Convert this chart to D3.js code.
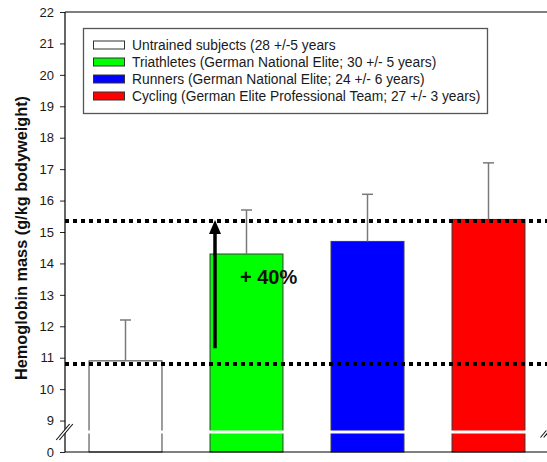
<!DOCTYPE html>
<html>
<head>
<meta charset="utf-8">
<script src="https://cdn.jsdelivr.net/npm/d3@7"></script>
<style>
  html, body { margin: 0; padding: 0; background: #fff; }
  svg { display: block; font-family: Arial, "Liberation Sans", sans-serif; }
</style>
</head>
<body>
<svg id="chart" width="547" height="462"></svg>
<script>
// Groups, mean hemoglobin mass and upper SD (g/kg bodyweight)
const categories = ["Untrained", "Triathletes", "Runners", "Cycling"];
const legendLabels = [
  "Untrained subjects (28 +/-5 years",
  "Triathletes (German National Elite; 30 +/- 5 years)",
  "Runners (German National Elite; 24 +/- 6 years)",
  "Cycling (German Elite Professional Team; 27 +/- 3 years)"
];
const means = [10.9, 14.3, 14.7, 15.4];
const sds = [1.3, 1.4, 1.5, 1.8];
const colors = ["#ffffff", "#00ff00", "#0000ff", "#ff0000"];
const refLevels = [15.35, 10.8];
const yTicks = [0, 9, 10, 11, 12, 13, 14, 15, 16, 17, 18, 19, 20, 21, 22];
const arrowFrom = 11.3, arrowTo = 15.35;
const annotation = "+ 40%";
const yTitle = "Hemoglobin mass (g/kg bodyweight)";

const svg = d3.select("#chart");
const plotL = 65, plotR = 549, plotT = 12, plotB = 452;
const W = 547;

// Broken axis: 0 sits one unit below 9
const unit = (plotB - plotT) / 14;
const y = d3.scaleLinear()
  .domain([0, 9, 22])
  .range([plotB, plotB - unit, plotT]);

const x = d3.scaleBand()
  .domain(categories)
  .range([plotL, plotR])
  .paddingInner(0.397)
  .paddingOuter(0.1985);

const breakY = 432;

// Bars
svg.append("g").selectAll("rect")
  .data(categories)
  .join("rect")
  .attr("x", d => x(d))
  .attr("y", (d, i) => y(means[i]))
  .attr("width", x.bandwidth())
  .attr("height", (d, i) => y(0) - y(means[i]))
  .attr("fill", (d, i) => colors[i])
  .attr("stroke", "#3a3a3a")
  .attr("stroke-width", 1);

// Break gap through the bars
svg.append("g").selectAll("rect")
  .data(categories)
  .join("rect")
  .attr("x", d => x(d) - 1.5)
  .attr("y", breakY - 1.5)
  .attr("width", x.bandwidth() + 3)
  .attr("height", 3)
  .attr("fill", "#fff");

// Upper error bars
const eb = svg.append("g").attr("stroke", "#7a7a7a").attr("stroke-width", 1.5);
categories.forEach((c, i) => {
  const cx = x(c) + x.bandwidth() / 2;
  eb.append("line").attr("x1", cx).attr("x2", cx)
    .attr("y1", y(means[i])).attr("y2", y(means[i] + sds[i]));
  eb.append("line").attr("x1", cx - 5.5).attr("x2", cx + 5.5)
    .attr("y1", y(means[i] + sds[i])).attr("y2", y(means[i] + sds[i]));
});

// Dotted reference levels
svg.append("g").selectAll("line")
  .data(refLevels)
  .join("line")
  .attr("x1", plotL).attr("x2", W)
  .attr("y1", d => y(d)).attr("y2", d => y(d))
  .attr("stroke", "#000")
  .attr("stroke-width", 4)
  .attr("stroke-dasharray", "4,4");

// Axes
const yAxis = d3.axisLeft(y).tickValues(yTicks).tickSize(5).tickPadding(6)
  .tickFormat(d3.format("d"));
const gy = svg.append("g").attr("transform", `translate(${plotL},0)`).call(yAxis);
gy.select(".domain").remove();
gy.selectAll("text").attr("font-size", 13).attr("fill", "#1a1a1a").attr("font-family", "Arial, 'Liberation Sans', sans-serif");
gy.selectAll("line").attr("stroke", "#222");
svg.append("line").attr("x1", plotL).attr("x2", plotL).attr("y1", plotT).attr("y2", plotB)
  .attr("stroke", "#000").attr("stroke-width", 1.2);
svg.append("line").attr("x1", plotL).attr("x2", W).attr("y1", plotB).attr("y2", plotB)
  .attr("stroke", "#000").attr("stroke-width", 1.2);
svg.append("line").attr("x1", plotL).attr("x2", W).attr("y1", plotT).attr("y2", plotT)
  .attr("stroke", "#000").attr("stroke-width", 1.2);

// Axis break marks
function breakMark(cx, cy, len) {
  const g = svg.append("g");
  const dx = len * 0.42, dy = len * 0.5;
  g.append("polygon")
    .attr("points", `${cx - dx - 1.5},${cy + dy} ${cx + dx - 1.5},${cy - dy} ${cx + dx + 1.5},${cy - dy} ${cx - dx + 1.5},${cy + dy}`)
    .attr("fill", "#fff");
  [-1.6, 1.6].forEach(o => {
    g.append("line")
      .attr("x1", cx - dx + o).attr("y1", cy + dy)
      .attr("x2", cx + dx + o).attr("y2", cy - dy)
      .attr("stroke", "#111").attr("stroke-width", 1.1);
  });
}
breakMark(64.5, breakY, 16);
breakMark(545, breakY + 2, 7);

// Arrow showing the increase
const ax = 215;
svg.append("line").attr("x1", ax).attr("x2", ax)
  .attr("y1", y(arrowFrom)).attr("y2", y(arrowTo) + 12)
  .attr("stroke", "#000").attr("stroke-width", 3.5);
svg.append("path")
  .attr("d", `M${ax},${y(arrowTo) - 1} L${ax - 6},${y(arrowTo) + 13} L${ax + 6},${y(arrowTo) + 13} Z`)
  .attr("fill", "#000");
svg.append("text")
  .attr("x", 240).attr("y", 284)
  .attr("font-size", 20).attr("font-weight", "bold")
  .attr("fill", "#111")
  .text(annotation);

// Y title
svg.append("text")
  .attr("transform", "translate(26.5,238) rotate(-90)")
  .attr("text-anchor", "middle")
  .attr("font-size", 16.3).attr("font-weight", "bold")
  .attr("fill", "#111")
  .text(yTitle);

// Legend
const lg = svg.append("g");
lg.append("rect").attr("x", 83.5).attr("y", 28.5).attr("width", 404).attr("height", 85)
  .attr("fill", "#fff").attr("stroke", "#555").attr("stroke-width", 1.3);
const rowY = d3.scalePoint().domain(legendLabels).range([45, 96]);
legendLabels.forEach((t, i) => {
  lg.append("rect").attr("x", 93.5).attr("y", rowY(t) - 4).attr("width", 31).attr("height", 8)
    .attr("fill", colors[i]).attr("stroke", "#333").attr("stroke-width", 1);
  lg.append("text").attr("x", 132).attr("y", rowY(t) + 4.8)
    .attr("font-size", 13.8).attr("fill", "#1a1a1a").text(t);
});
</script>
</body>
</html>
